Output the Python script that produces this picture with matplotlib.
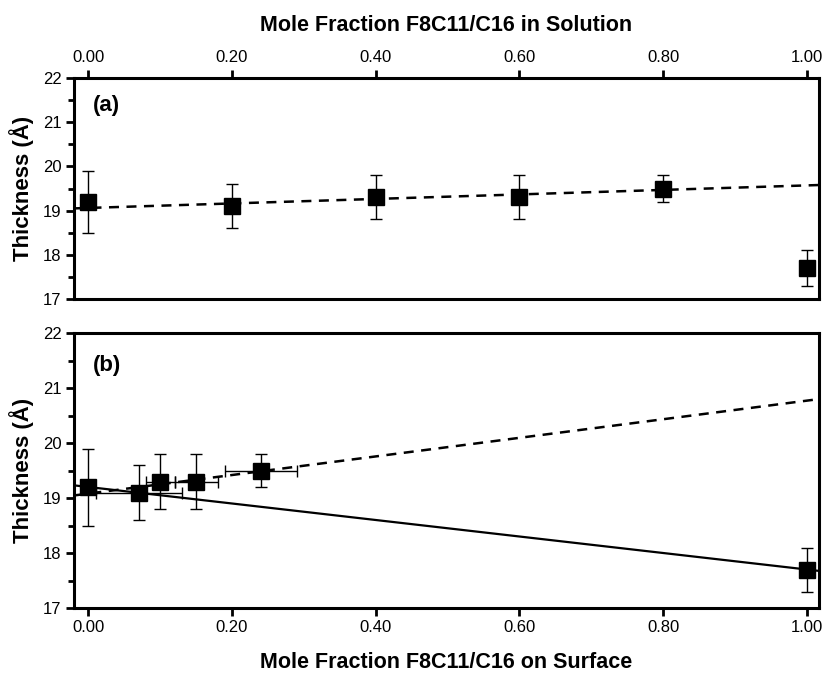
"""
膜厚 vs モル分率のグラフ (a) 溶液中, (b) 表面
"""
import numpy as np
import matplotlib
matplotlib.use("Agg")
import matplotlib.pyplot as plt
import matplotlib.ticker as ticker

plt.rcParams['font.family'] = ['Liberation Sans', 'DejaVu Sans']

# (a) 溶液中のモル分率
x_solution = [0.0, 0.2, 0.4, 0.6, 0.8, 1.0]
# (b) 表面のモル分率
x_surface = [0.0, 0.07, 0.10, 0.15, 0.24, 1.0]
x_surface_err = [0.005, 0.06, 0.02, 0.03, 0.05, 0.0]

thickness = [19.2, 19.1, 19.3, 19.3, 19.5, 17.7]
thickness_err = [0.7, 0.5, 0.5, 0.5, 0.3, 0.4]

# 破線（フィット線）: 切片, 傾き
fit_a = (19.06, 0.51)
fit_b = (19.08, 1.69)

x_ticks = [0.0, 0.2, 0.4, 0.6, 0.8, 1.0]
y_ticks = [17, 18, 19, 20, 21, 22]
x_lim = (-0.02, 1.017)

fig = plt.figure(figsize=(8.23, 6.76), dpi=100)
W, H = 823, 676
ax_a = fig.add_axes([74 / W, 1 - 299 / H, (819 - 74) / W, (299 - 78) / H])
ax_b = fig.add_axes([74 / W, 1 - 608 / H, (819 - 74) / W, (608 - 333) / H])


def style_axes(ax):
    ax.set_xlim(*x_lim)
    ax.set_ylim(17, 22)
    ax.set_yticks(y_ticks)
    ax.yaxis.set_minor_locator(ticker.MultipleLocator(0.5))
    ax.set_xticks(x_ticks)
    ax.xaxis.set_major_formatter(ticker.FuncFormatter(lambda v, _: f"{v:.2f}"))
    for s in ax.spines.values():
        s.set_linewidth(2.2)
    ax.tick_params(which="major", direction="out", length=6, width=2,
                   labelsize=12, pad=3)
    ax.tick_params(which="minor", direction="out", length=4, width=2)
    ax.set_ylabel("Thickness (Å)", fontsize=16, fontweight="bold", labelpad=6)


xs = np.array(x_lim)

# (a)
style_axes(ax_a)
ax_a.xaxis.tick_top()
ax_a.xaxis.set_label_position("top")
ax_a.set_xlabel("Mole Fraction F8C11/C16 in Solution", fontsize=15.5,
                fontweight="bold", labelpad=14)
ax_a.plot(xs, fit_a[0] + fit_a[1] * xs, "--", color="black", linewidth=1.8,
          dashes=(4, 3))
ax_a.errorbar(x_solution, thickness, yerr=thickness_err, fmt="s",
              color="black", markersize=11, ecolor="black", elinewidth=1,
              capsize=4, capthick=1)
ax_a.text(0.025, 0.85, "(a)", transform=ax_a.transAxes, fontsize=16,
          fontweight="bold")

# (b)
style_axes(ax_b)
ax_b.set_xlabel("Mole Fraction F8C11/C16 on Surface", fontsize=15.5,
                fontweight="bold", labelpad=12)
ax_b.plot(xs, fit_b[0] + fit_b[1] * xs, "--", color="black", linewidth=1.8,
          dashes=(4, 3))
# 理想混合線（両端点を結ぶ）
slope = (thickness[-1] - thickness[0]) / (x_surface[-1] - x_surface[0])
ax_b.plot(xs, thickness[0] + slope * (xs - x_surface[0]), "-", color="black",
          linewidth=1.6)
ax_b.errorbar(x_surface, thickness, xerr=x_surface_err, yerr=thickness_err,
              fmt="s", color="black", markersize=11, ecolor="black",
              elinewidth=1, capsize=4, capthick=1)
ax_b.text(0.025, 0.86, "(b)", transform=ax_b.transAxes, fontsize=16,
          fontweight="bold")

plt.savefig("out.png", dpi=100)
plt.close()
